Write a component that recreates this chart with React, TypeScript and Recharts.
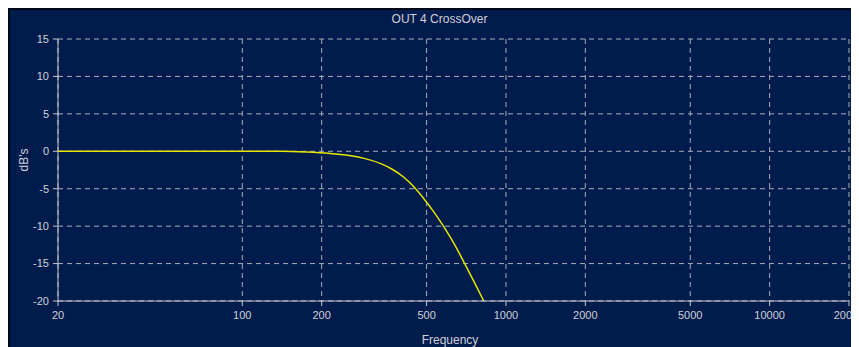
import React from "react";
import { LineChart, Line, XAxis, YAxis, CartesianGrid } from "recharts";

const frequencies = [20, 50, 100, 140, 175, 216, 258, 290, 335, 366, 411, 449, 490, 535, 584, 637, 695, 759, 824];
const gainDb = [0, 0, 0, 0, -0.1, -0.3, -0.6, -0.95, -1.65, -2.3, -3.5, -4.8, -6.4, -8.2, -10.2, -12.4, -14.9, -17.5, -20];
const xTicks = [20, 100, 200, 500, 1000, 2000, 5000, 10000, 20000];
const yTicks = [-20, -15, -10, -5, 0, 5, 10, 15];

const data = frequencies.map((f, i) => ({ f, db: gainDb[i] }));

const BG = "#001c4d";
const TXT = "#d0d0d8";
const GRID = "#a9adb8";
const FONT = "'Liberation Sans', Arial, sans-serif";

export default function App() {
  return (
    <div style={{ position: "relative", width: 851, height: 339, background: BG, fontFamily: FONT, boxSizing: "border-box", borderTop: "2px solid #000818", borderLeft: "2px solid #000818" }}>
      <div style={{ position: "absolute", left: 0, top: 0 }}>
        <LineChart width={849} height={337} data={data} margin={{ top: 29, right: 10, left: 0, bottom: 0 }} style={{ overflow: "visible" }}>
          <CartesianGrid stroke={GRID} strokeDasharray="5 4" strokeWidth={1} />
          <XAxis
            dataKey="f"
            type="number"
            scale="log"
            domain={[20, 20000]}
            ticks={xTicks}
            interval={0}
            allowDataOverflow
            height={46}
            stroke="#c4c6cc"
            tickSize={5}
            tickMargin={5}
            tick={{ fill: TXT, fontSize: 11, fontFamily: FONT }}
          />
          <YAxis
            type="number"
            domain={[-20, 15]}
            ticks={yTicks}
            interval={0}
            width={48}
            stroke="#c4c6cc"
            tickSize={5}
            tickMargin={4}
            tick={{ fill: TXT, fontSize: 11, fontFamily: FONT }}
          />
          <Line dataKey="db" type="monotone" stroke="#e6e600" strokeWidth={1.5} dot={false} isAnimationActive={false} />
        </LineChart>
      </div>
      <div style={{ position: "absolute", left: 0, width: 849, top: 2, textAlign: "center", paddingLeft: 10, boxSizing: "border-box", color: TXT, fontSize: 12, lineHeight: "14px" }}>
        OUT 4 CrossOver
      </div>
      <div style={{ position: "absolute", left: 380, width: 120, top: 323, textAlign: "center", color: TXT, fontSize: 12, lineHeight: "14px" }}>
        Frequency
      </div>
      <div style={{ position: "absolute", left: 14 - 30, width: 60, top: 143, textAlign: "center", color: TXT, fontSize: 12, lineHeight: "14px", transform: "rotate(-90deg)" }}>
        dB's
      </div>
    </div>
  );
}
